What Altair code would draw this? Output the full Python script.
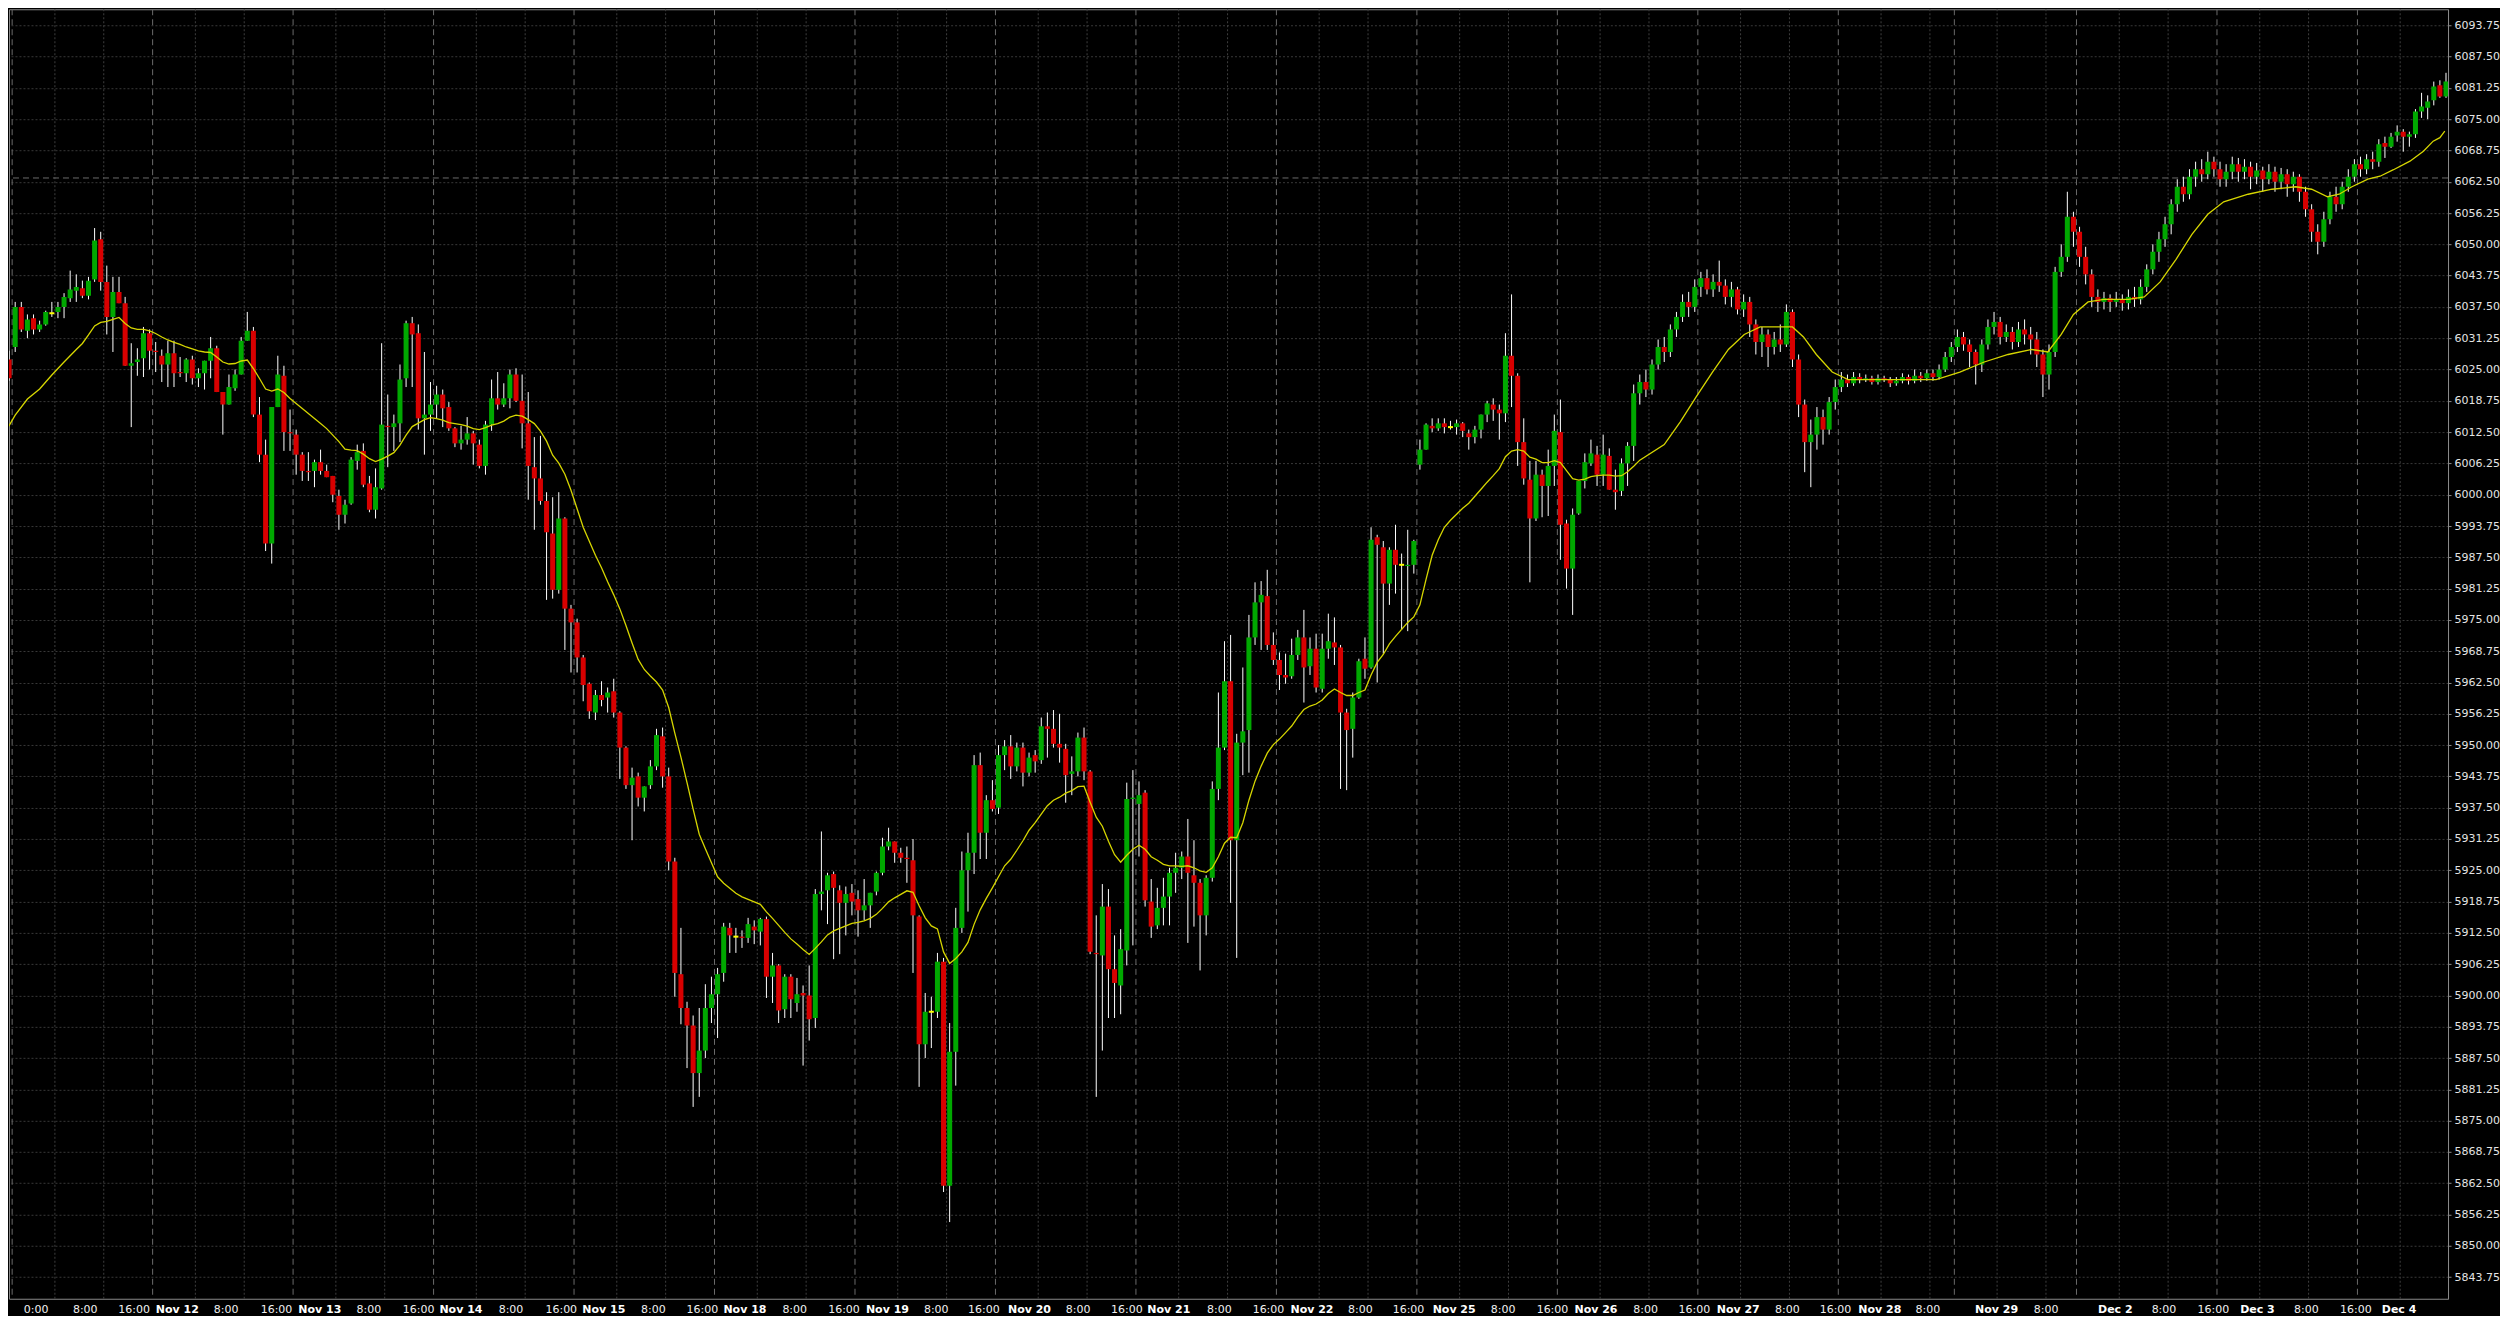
import altair as alt
import pandas as pd

# ---------------- data (hourly bars, bar index g starts at -2) ----------------
FIRST_BAR = -2
opens = [
    6033, 6027, 6029.5, 6037.5, 6032.75, 6035.25, 6033, 6034, 6036.25, 6036.5,            # -2
    6037.5, 6039.25, 6040.75, 6041.25, 6039.75, 6043, 6051, 6042.5, 6035.5, 6040.5,       # 8
    6038.25, 6025.75, 6026.5, 6027.25, 6032.25, 6028.75, 6027.75, 6026, 6028.25, 6024.5,  # 18
    6024.25, 6027, 6023.25, 6024.25, 6026.75, 6029.25, 6020.5, 6018, 6021.25, 6024,       # 28
    6030.75, 6032.75, 6016, 6008, 5990.25, 6017.5, 6023.75, 6012.5, 6012, 6008,           # 38
    6004.75, 6004.75, 6006.5, 6004.75, 6003.75, 5999.75, 5996, 5998.25, 6006.75, 6008.75, # 48
    6002.25, 5997, 6001.25, 6013.75, 6013.5, 6014.25, 6023.25, 6034.25, 6032.25, 6015.25, # 58
    6016, 6018, 6020, 6017.5, 6013.25, 6010.25, 6011, 6012.25, 6010, 6005.75,             # 68
    6014, 6019.25, 6018, 6019.25, 6024, 6018.75, 6014.25, 6005.5, 6003.25, 5998.75,       # 78
    5992.25, 5981, 5995.25, 5977.25, 5974.5, 5967.5, 5962.25, 5956.5, 5960, 5959.5,       # 88
    5960.75, 5956.5, 5949.5, 5942, 5943.75, 5939.5, 5942, 5945.75, 5951.75, 5943.75,      # 98
    5926.75, 5904.25, 5897.5, 5894, 5884.5, 5889, 5897.5, 5900.25, 5904.5, 5913.5,        # 108
    5911.75, 5911.75, 5911.5, 5913.75, 5912.75, 5915.25, 5903.75, 5906, 5897.25, 5903.75, # 118
    5898.5, 5900.5, 5900, 5895.5, 5920.25, 5921, 5924.25, 5921, 5918.5, 5920.5,           # 128
    5919.25, 5917, 5918, 5920.75, 5924.5, 5929.75, 5930.75, 5928.5, 5927.5, 5927,         # 138
    5915.75, 5890.25, 5896.75, 5896.75, 5906.75, 5862, 5888.75, 5913.5, 5925, 5928.5,     # 148
    5946, 5932.5, 5939, 5937.5, 5948, 5949.75, 5945.75, 5949.5, 5944.5, 5948,             # 158
    5947, 5953.75, 5953.25, 5950.25, 5949.25, 5944.25, 5944.75, 5951.5, 5944.75, 5908.5,  # 168
    5908, 5917.75, 5905.25, 5902, 5909, 5939.25, 5938.25, 5940.5, 5918.75, 5914,          # 178
    5917.5, 5919.75, 5924.5, 5925.5, 5927.75, 5924, 5922.5, 5916, 5923.5, 5941.25,        # 188
    5949.5, 5962.75, 5931, 5950.5, 5953, 5971.5, 5978.5, 5979.75, 5970, 5967,             # 198
    5964, 5963.75, 5968, 5971.5, 5965.75, 5969.25, 5961.25, 5969.25, 5970.5, 5969.5,      # 208
    5956.5, 5953.25, 5959.5, 5967.25, 5965.5, 5991.5, 5989.5, 5982.25, 5989, 5986,        # 218
    5985.75, 5986, 6006, 6009, 6013.75, 6013.25, 6014.25, 6013.5, 6013.5, 6014.25,        # 228
    6012.25, 6011.5, 6013, 6016, 6018, 6017, 6016.25, 6027.75, 6023.75, 6010.5,           # 238
    6003, 5995.25, 6004, 6001.75, 6005.75, 6012.5, 5994.25, 5985.25, 5996.25, 6002.75,    # 248
    6006.25, 6008, 6004, 6007.75, 6001, 6000.75, 6006.25, 6009.75,                        # 258
    6020.25, 6022.5, 6021, 6026, 6029.5, 6028.5, 6033, 6035.5, 6038.5, 6037.5,            # 266
    6041.5, 6043.25, 6041, 6042.5, 6041.75, 6039.5, 6041, 6037, 6038.5, 6034,             # 276
    6030.5, 6032, 6029.5, 6031, 6030, 6036.5, 6027, 6018, 6010.5, 6012,                   # 286
    6015.5, 6013, 6018.5, 6021.5, 6023, 6022.25, 6023.5, 6023, 6023.25, 6022.5,           # 296
    6023.25, 6023, 6022.25, 6022.75, 6023.5, 6022.75, 6023.75, 6023.25, 6024.25, 6023.5,  # 306
    6025, 6027.5, 6029.5, 6031.5, 6030, 6028.5, 6026, 6030, 6033.5, 6034.5,               # 316
    6031.5, 6032.5, 6030.5, 6033, 6032, 6031, 6028, 6024, 6028.5, 6044.5,                 # 326
    6047.5, 6055.5, 6052.5, 6047.5, 6044, 6039.5, 6038.5, 6039.25, 6038.5, 6039,          # 336
    6038.25, 6039.5, 6039, 6041.5, 6045, 6048.5, 6051, 6054, 6058, 6061.5,                # 346
    6060, 6063.5, 6065, 6064, 6066.5, 6065, 6063, 6064.5, 6066, 6064.5,                   # 356
    6065.5, 6063.5, 6064.75, 6063, 6064.5, 6062.5, 6064, 6062, 6063.5, 6060.5,            # 366
    6057, 6052.5, 6050.5, 6055, 6059.5, 6058, 6061.5, 6063.5, 6066, 6065,                 # 376
    6067, 6066.5, 6070.25, 6069.5, 6071.75, 6072.5, 6071.5, 6072, 6076.5, 6077.25,        # 386
    6078.75, 6081.75, 6079.5,                                                             # 396
]
highs = [
    6033.75, 6028.75, 6038.5, 6038.5, 6036, 6036, 6034.75, 6036.75, 6038.5, 6038.5,
    6040.25, 6044.75, 6044, 6042.75, 6043.5, 6053.25, 6052.5, 6045.75, 6043.5, 6043.5,
    6039.5, 6030.25, 6029.25, 6033.5, 6033, 6030.5, 6029, 6030.75, 6030.75, 6027.5,
    6027.25, 6027.75, 6025.25, 6026.75, 6031.5, 6029.75, 6020.5, 6024, 6025, 6031.5,
    6036.5, 6033.5, 6019.5, 6011, 6017.5, 6027.75, 6025.75, 6017, 6013, 6008.5,
    6008.5, 6007, 6009, 6006, 6003.75, 6001, 5999, 6007.5, 6010, 6010.25,
    6003.75, 6005.25, 6030.25, 6020, 6016, 6026, 6034.75, 6035.5, 6034, 6028.5,
    6022.5, 6021.75, 6021, 6018.5, 6013.5, 6013.75, 6015.5, 6012.75, 6011, 6014.75,
    6023, 6024.5, 6022.25, 6025, 6025.25, 6024, 6020.5, 6011.5, 6011.75, 6000.5,
    5999.5, 6000.5, 5995.5, 5978, 5975.25, 5968, 5962.5, 5961, 5962.75, 5961.5,
    5963.25, 5956.75, 5949.75, 5945.5, 5944.5, 5941.75, 5947, 5953.25, 5953.5, 5945.5,
    5927.5, 5913.5, 5898.75, 5896, 5897.5, 5902.25, 5903.75, 5905.5, 5914.5, 5914.5,
    5913.5, 5913, 5915.5, 5915, 5915.5, 5915.75, 5908.5, 5906.25, 5904.25, 5904.25,
    5903.5, 5902, 5906, 5921.25, 5932.75, 5924.5, 5924.75, 5922, 5921.75, 5922.25,
    5921, 5923.25, 5920.5, 5924.75, 5931.5, 5933.5, 5930.75, 5929.5, 5929.75, 5931.25,
    5916, 5900.5, 5899.75, 5908.5, 5907.5, 5894.5, 5917.5, 5928.75, 5932.5, 5948,
    5948.5, 5940, 5943, 5950, 5951, 5952, 5950.5, 5950.5, 5948.5, 5949,
    5955.5, 5956.5, 5957, 5956.25, 5950.25, 5947.75, 5952.5, 5953.5, 5945, 5916,
    5922.25, 5921.25, 5912, 5913.25, 5942.5, 5945, 5942.75, 5941, 5923.25, 5921.5,
    5923.5, 5925.5, 5928.5, 5928.75, 5935.25, 5931, 5923.25, 5924, 5942.75, 5960.5,
    5970.75, 5972, 5952.25, 5965.5, 5976, 5982.5, 5982.75, 5985, 5972.5, 5968.5,
    5968.25, 5971.25, 5973, 5977, 5971.5, 5972.25, 5972.25, 5976.25, 5975.5, 5970,
    5957.25, 5960.5, 5967.25, 5971.5, 5993.5, 5992, 5990.75, 5989.5, 5994, 5988.25,
    5993, 5991, 6011, 6014.25, 6015.25, 6015.25, 6015.25, 6014.75, 6015, 6014.5,
    6013, 6013.75, 6016, 6018.75, 6019.25, 6018, 6032.25, 6040, 6024.25, 6015.25,
    6006.75, 6006.75, 6005, 6009, 6016, 6019, 5995, 5997.25, 6002.75, 6008.25,
    6011, 6009.75, 6012, 6009.25, 6005, 6007.25, 6010.5, 6022,
    6024, 6025, 6027, 6031, 6031.5, 6034, 6036.5, 6040, 6040.5, 6043,
    6044.5, 6045, 6044, 6046.75, 6043, 6042.5, 6041.5, 6040, 6039.5, 6035,
    6033.5, 6033, 6032.5, 6034, 6038, 6037, 6028, 6019, 6015, 6017.5,
    6017, 6019.5, 6023, 6024.5, 6024, 6024.5, 6024.25, 6024, 6023.75, 6024,
    6023.75, 6023.5, 6023.5, 6024.25, 6024, 6025, 6024.5, 6025, 6025, 6026,
    6028.5, 6030.5, 6033, 6032.5, 6031, 6029, 6031, 6035, 6036.5, 6035.5,
    6034, 6033.5, 6034.5, 6035, 6033.5, 6032.5, 6029, 6030, 6045.5, 6050,
    6060.5, 6056.5, 6053.5, 6049.5, 6045, 6041, 6040.5, 6040, 6040.5, 6040,
    6041, 6041.5, 6043, 6046, 6050, 6052.5, 6055.5, 6059, 6063, 6063.5,
    6065, 6066.5, 6067, 6068.5, 6067.5, 6066.5, 6066, 6067.5, 6067.25, 6067,
    6066.5, 6066.25, 6065.5, 6066, 6065.5, 6065.25, 6065, 6064.5, 6064, 6061.5,
    6058, 6054, 6056.5, 6060.5, 6061.5, 6062.5, 6065, 6067, 6067.5, 6068,
    6068.5, 6071, 6071.5, 6072.25, 6073.75, 6073, 6072.5, 6077, 6080.25, 6079.75,
    6082.5, 6082.75, 6084.25,
]
lows = [
    6020, 6022.75, 6028.5, 6032.5, 6031.25, 6032, 6032.5, 6033.75, 6035.5, 6035.25,
    6035.25, 6038.5, 6038.5, 6039.25, 6039, 6042.5, 6040.75, 6032, 6028.5, 6038.25,
    6025.75, 6013.5, 6023.75, 6023.5, 6025, 6024.5, 6022.5, 6021.5, 6021.5, 6023.5,
    6022.5, 6022, 6021.5, 6021, 6023.25, 6020.5, 6012, 6018, 6020.75, 6024,
    6030.75, 6015.5, 6006.5, 5988.75, 5986.25, 6017.5, 6008.75, 6008.75, 6004, 6002.75,
    6002.75, 6001.5, 6004, 6003.5, 5998.5, 5993, 5994.25, 5998, 6005, 6001.5,
    5996.5, 5995.25, 6001, 6005.5, 6008.75, 6010.5, 6021.5, 6021.5, 6013, 6008,
    6012.75, 6015.25, 6013.5, 6012.75, 6009.5, 6009, 6010, 6006, 6005.25, 6004,
    6012.75, 6017, 6017.5, 6017.25, 6018.5, 6009.25, 5999, 5993, 5998, 5979,
    5979.25, 5980.25, 5969, 5964.5, 5964.5, 5958.75, 5955.25, 5955, 5957.75, 5956.5,
    5955.5, 5943.25, 5941.25, 5931, 5937.75, 5936.75, 5941.25, 5945, 5941.5, 5925,
    5899.75, 5894.25, 5885.5, 5877.75, 5879.75, 5887.5, 5894.5, 5891.5, 5902.75, 5908.5,
    5908.5, 5909.5, 5910.5, 5910.25, 5910, 5899.5, 5898.5, 5894.5, 5895.5, 5895.5,
    5896.75, 5886, 5891, 5893.5, 5917, 5914.25, 5907.25, 5908.25, 5912, 5916,
    5911.75, 5915, 5913.5, 5920, 5924, 5929, 5926.5, 5926.5, 5922.5, 5904.5,
    5881.75, 5887.5, 5889.5, 5895.5, 5860.75, 5854.75, 5882, 5912.5, 5916.75, 5924.25,
    5927.25, 5927.25, 5936.75, 5936.25, 5945, 5943.25, 5944.75, 5941.75, 5943.75, 5944.5,
    5946.25, 5947.5, 5949.5, 5946.5, 5938.5, 5940, 5943.75, 5943, 5908.25, 5879.75,
    5889, 5895.5, 5895.5, 5896.25, 5906, 5910, 5927.75, 5917.75, 5911.5, 5913.25,
    5914, 5914, 5920.5, 5923.25, 5910.5, 5913.75, 5905, 5912, 5922.75, 5939,
    5949, 5918.5, 5907.5, 5944, 5944.5, 5970, 5969, 5969, 5966, 5961,
    5962.25, 5963.25, 5967, 5958.5, 5964, 5960.5, 5960.5, 5967.25, 5966, 5941.25,
    5941, 5947.5, 5959.25, 5963.25, 5965.25, 5962.5, 5968.25, 5978, 5980.25, 5973,
    5972.75, 5984.25, 6005, 6009, 6012.5, 6012.75, 6012.25, 6013, 6012, 6011.5,
    6009, 6010.25, 6011.25, 6014.5, 6014.75, 6011, 6014.5, 6017.5, 6005.75, 6002,
    5982.5, 5994.75, 5995.5, 5995.75, 6001.75, 5987, 5981.25, 5976, 5996, 6001.25,
    6005.75, 6001.75, 6001.75, 6001, 5997, 5999.75, 6001.75, 6006.75,
    6018, 6019.5, 6020, 6025, 6026.5, 6027.5, 6031.5, 6034.5, 6035.5, 6036.5,
    6039.5, 6040, 6039.5, 6040.5, 6038, 6037.5, 6036, 6035.5, 6031.5, 6028,
    6027.5, 6025.5, 6028, 6028.5, 6029.5, 6025.5, 6015.5, 6004.5, 6001.5, 6009,
    6010, 6012, 6017, 6020.5, 6021.5, 6021.75, 6022.25, 6022.5, 6022, 6022,
    6022.5, 6021.5, 6021.75, 6022.25, 6022, 6022.25, 6022.5, 6022.75, 6022.75, 6023,
    6024.5, 6026.5, 6028.5, 6028.75, 6025.5, 6022, 6024.5, 6029, 6032, 6030,
    6030.5, 6029, 6029.5, 6030, 6028, 6025.5, 6019.5, 6021, 6027.5, 6043.5,
    6046.5, 6049.5, 6045.5, 6042, 6037.5, 6036.5, 6037, 6036.5, 6037.5, 6036.75,
    6037, 6037.5, 6038, 6040.5, 6044, 6046.5, 6049.5, 6052, 6056.5, 6058.5,
    6059, 6061.5, 6062.5, 6063, 6063.5, 6061.5, 6061.5, 6063, 6062.5, 6063,
    6061, 6062, 6060.5, 6062, 6060.5, 6061, 6059.5, 6060.5, 6058.5, 6055.5,
    6050.5, 6048, 6049.5, 6054, 6056.5, 6057, 6060.5, 6062.5, 6063.5, 6064,
    6065, 6065.5, 6067.25, 6069.25, 6070.5, 6068.5, 6069.5, 6071.25, 6075.25, 6075,
    6077.75, 6079.25, 6079.25,
]
closes = [
    6027.25, 6023.25, 6037.5, 6033, 6035, 6033, 6034, 6036.5, 6036.25, 6037.5,
    6039.5, 6041, 6041.5, 6039.75, 6042.75, 6050.75, 6042.5, 6035.5, 6040.5, 6038.25,
    6025.75, 6026.25, 6027, 6032.25, 6028.75, 6028.5, 6026, 6028.25, 6024.25, 6024.25,
    6027, 6023.25, 6024.25, 6026.75, 6029.25, 6020.5, 6018, 6021.5, 6024, 6030.75,
    6032.75, 6016, 6008, 5990.25, 6017.5, 6024, 6012.5, 6012.25, 6008, 6004.75,
    6004.5, 6006.5, 6004.75, 6003.5, 6000, 5996, 5998, 6007, 6008.5, 6002,
    5997, 6001.5, 6014, 6013.5, 6014.25, 6023, 6034.25, 6032, 6015.25, 6016,
    6018, 6020, 6017.25, 6013.25, 6010.25, 6011, 6012.25, 6010.25, 6005.75, 6014,
    6019.25, 6018, 6019.25, 6024, 6018.75, 6014.25, 6005.75, 6003.25, 5998.75, 5992.5,
    5981, 5995.25, 5977.25, 5974.5, 5967.5, 5962, 5956.75, 5960, 5959, 5960.5,
    5956.5, 5949.5, 5942, 5943.5, 5939.5, 5941.75, 5945.75, 5952, 5943.75, 5926.75,
    5904.5, 5897.5, 5894, 5884.5, 5889, 5897.5, 5900.25, 5904.25, 5913.75, 5912,
    5911.75, 5911.5, 5914.25, 5913, 5915.25, 5903.75, 5906, 5897, 5903.75, 5899.25,
    5900.25, 5900, 5895.25, 5920.25, 5920.75, 5924, 5921.5, 5918.5, 5920.25, 5918.75,
    5917, 5918, 5920.5, 5924.5, 5929.75, 5930.75, 5928.5, 5927.5, 5927.25, 5916,
    5890.25, 5896.75, 5896.75, 5906.75, 5862, 5888.75, 5913.5, 5925, 5928.5, 5946,
    5932.5, 5939, 5937.25, 5948, 5949.75, 5945.75, 5949.5, 5944.5, 5947.5, 5946.75,
    5953.75, 5953.25, 5950.25, 5949.5, 5944, 5944.75, 5951.5, 5944.75, 5908.75, 5908.25,
    5917.75, 5905.25, 5902.5, 5909.25, 5939.25, 5939.5, 5940, 5919, 5913.75, 5917.5,
    5919.75, 5924.5, 5925.5, 5927.75, 5924.5, 5922.5, 5916, 5923.5, 5941.25, 5949.5,
    5962.75, 5931, 5950.5, 5952.75, 5971.5, 5978.5, 5980, 5970, 5967, 5964,
    5963.5, 5968, 5971.5, 5965.5, 5969.25, 5961.5, 5969.25, 5970.75, 5969.5, 5956.5,
    5953, 5959.5, 5966.75, 5965.25, 5991, 5990, 5982.25, 5989, 5986, 5986,
    5986, 5990.75, 6009, 6014, 6013.25, 6014.25, 6013.5, 6013.5, 6014.25, 6012.75,
    6011.5, 6013, 6016, 6018.25, 6017, 6016.25, 6027.75, 6023.75, 6010.5, 6003.25,
    5995.25, 6004, 6001.75, 6005.75, 6012.75, 5994, 5985.25, 5996, 6002.75, 6006.5,
    6008.25, 6004, 6008, 6001, 6000.5, 6006.25, 6009.75, 6020.25,
    6022.5, 6021, 6026, 6029.5, 6028.5, 6033, 6035.5, 6038.5, 6037.5, 6041.5,
    6043.25, 6041, 6042.5, 6041.75, 6039.5, 6041, 6037, 6038.5, 6034, 6030.5,
    6032, 6029.5, 6031, 6030, 6036.5, 6027, 6018, 6010.5, 6012, 6015.5,
    6013, 6018.5, 6021.5, 6023, 6022.25, 6023.5, 6023, 6023.25, 6022.5, 6023.25,
    6023, 6022.25, 6022.75, 6023.5, 6022.75, 6023.75, 6023.25, 6024.25, 6023.5, 6025,
    6027.5, 6029.5, 6031.5, 6030, 6028.5, 6026, 6030, 6033.5, 6034.5, 6031.5,
    6032.5, 6030.5, 6033, 6032, 6031, 6028, 6024, 6028.5, 6044.5, 6047.5,
    6055.5, 6052.5, 6047.5, 6044, 6039.5, 6038.5, 6039.25, 6038.5, 6039, 6038.25,
    6039.5, 6039, 6041.5, 6045, 6048.5, 6051, 6054, 6058, 6061.5, 6060,
    6063.5, 6065, 6064, 6066.5, 6065, 6063, 6064.5, 6066, 6064.5, 6065.5,
    6063.5, 6064.75, 6063, 6064.5, 6062.5, 6064, 6062, 6063.5, 6060.5, 6057,
    6052.5, 6050.5, 6055, 6059.5, 6058, 6061.5, 6063.5, 6066, 6065, 6067,
    6066.5, 6070, 6069.5, 6071.5, 6072.5, 6071.5, 6072, 6076.5, 6077.5, 6078.5,
    6081.5, 6079.5, 6082.5,
]

# moving average (yellow line), read at bar positions
ma_g = [-2, -1, 0, 2, 4, 6, 8, 10, 11, 12, 13, 14, 15, 16, 17, 18, 19, 20, 21, 22,
        23, 24, 25, 26, 27, 28, 29, 30, 31, 32, 33, 34, 35, 36, 37, 38, 39, 40, 41, 42,
        43, 44, 45, 46, 47, 48, 49, 50, 51, 52, 53, 54, 55, 56, 57, 58, 59, 60, 61, 62,
        63, 64, 65, 66, 67, 68, 69, 70, 71, 72, 73, 74, 75, 76, 77, 78, 79, 80, 81, 82,
        83, 84, 85, 86, 87, 88, 89, 90, 91, 92, 93, 94, 95, 96, 97, 98, 99, 100, 101, 102,
        103, 104, 105, 106, 107, 108, 109, 110, 111, 112, 113, 114, 115, 116, 117, 118, 119, 120, 121, 122,
        123, 124, 125, 126, 127, 128, 129, 130, 131, 132, 133, 134, 135, 136, 137, 138, 139, 140, 141, 142,
        143, 144, 145, 146, 147, 148, 149, 150, 151, 152, 153, 154, 155, 156, 157, 158, 159, 160, 161, 162,
        163, 164, 165, 166, 167, 168, 169, 170, 171, 172, 173, 174, 175, 176, 177, 178, 179, 180, 181, 182,
        183, 184, 185, 186, 187, 188, 189, 190, 191, 192, 193, 194, 195, 196, 197, 198, 199, 200, 201, 202,
        203, 204, 205, 206, 207, 208, 209, 210, 211, 212, 213, 214, 215, 216, 217, 218, 219, 220, 221, 222,
        223, 224, 225, 226, 227, 228, 229, 230, 231, 232, 233, 234, 235, 236, 237, 238, 239, 240, 241, 242,
        243, 244, 245, 246, 247, 248, 249, 250, 251, 252, 253, 254, 255, 256, 257, 258, 259, 260, 261, 262,
        263, 264, 265, 266, 270, 272.6, 275.2, 277.9, 280.5, 283.1, 285.7, 288.3, 291, 292.8, 294.9, 297.5,
        300.1, 304, 309.3, 314.5, 318.4, 322.4, 326.3, 330.2, 332.8, 335, 337, 339.4, 342, 346, 348.6,
        351.2, 353.8, 356.4, 359, 361.6, 365.6, 369.5, 373.4, 376, 378.6, 380.5, 382.6, 385.2, 387.2,
        389.4, 392.1, 394.3, 395.9, 397, 397.8]
ma_v = [6012.2, 6013.8, 6015.9, 6019.1, 6021.1, 6023.9, 6026.5, 6029.0, 6030.2, 6031.9, 6033.7, 6034.4, 6034.6, 6035.0, 6035.4, 6034.2, 6033.3, 6033.0, 6033.0, 6032.7,
        6032.2, 6031.5, 6030.9, 6030.4, 6030.0, 6029.5, 6029.1, 6028.7, 6028.5, 6028.4, 6027.5, 6026.5, 6026.1, 6026.2, 6026.7, 6026.9, 6025.2, 6023.2, 6021.1, 6020.7,
        6021.1, 6020.4, 6019.2, 6018.2, 6017.2, 6016.2, 6015.2, 6014.2, 6013.2, 6011.9, 6010.6, 6009.1, 6008.9, 6008.8, 6008.1, 6007.2, 6006.6, 6007.1, 6007.7, 6008.4,
        6009.9, 6011.9, 6013.6, 6014.3, 6015.0, 6015.4, 6015.2, 6014.9, 6014.4, 6014.2, 6014.0, 6013.7, 6013.2, 6013.0, 6013.4, 6013.9, 6014.2, 6014.7, 6015.5, 6015.9,
        6015.7, 6015.0, 6014.2, 6012.7, 6010.7, 6007.9, 6006.3, 6004.1, 6000.9, 5997.2, 5993.5, 5990.7, 5987.9, 5985.4, 5982.6, 5980.0, 5977.2, 5973.9, 5970.4, 5967.1,
        5965.1, 5963.8, 5962.6, 5961.0, 5957.5, 5952.4, 5947.6, 5942.5, 5937.2, 5932.2, 5929.3, 5926.5, 5923.7, 5922.4, 5921.4, 5920.4, 5919.7, 5919.2, 5918.7, 5918.2,
        5916.7, 5915.4, 5914.0, 5912.6, 5911.3, 5910.3, 5909.2, 5908.2, 5909.4, 5910.7, 5912.1, 5912.9, 5913.4, 5913.9, 5914.4, 5914.6, 5914.9, 5915.4, 5916.2, 5917.4,
        5918.7, 5919.5, 5920.2, 5920.9, 5920.6, 5917.9, 5915.5, 5913.9, 5913.3, 5908.7, 5906.4, 5907.4, 5908.7, 5910.6, 5914.2, 5917.1, 5919.4, 5921.5, 5923.7, 5925.9,
        5927.2, 5929.0, 5930.9, 5933.0, 5934.5, 5936.2, 5937.9, 5939.0, 5939.6, 5940.4, 5940.9, 5941.7, 5941.8, 5938.6, 5935.6, 5933.8, 5930.8, 5928.1, 5926.6, 5928.0,
        5929.2, 5930.0, 5929.2, 5927.7, 5927.0, 5926.2, 5925.9, 5925.9, 5925.8, 5925.9, 5925.5, 5924.9, 5924.6, 5925.5, 5927.7, 5930.4, 5931.6, 5931.5, 5934.5, 5939.0,
        5942.8, 5945.8, 5948.4, 5950.1, 5951.2, 5952.5, 5953.8, 5955.6, 5957.1, 5957.8, 5958.2, 5959.0, 5960.3, 5961.2, 5960.5, 5959.9, 5959.9, 5960.5, 5961.0, 5964.0,
        5966.5, 5968.1, 5970.2, 5971.7, 5973.1, 5974.5, 5975.6, 5978.0, 5983.1, 5987.9, 5991.0, 5993.5, 5994.9, 5996.1, 5997.3, 5998.3, 5999.7, 6001.1, 6002.5, 6003.8,
        6005.2, 6007.6, 6008.7, 6009.0, 6008.7, 6007.5, 6007.1, 6006.4, 6006.4, 6006.8, 6006.4, 6004.8, 6003.2, 6002.9, 6003.1, 6003.6, 6003.8, 6003.9, 6003.9, 6003.7,
        6003.8, 6004.6, 6005.7, 6006.9, 6010.0, 6014.5, 6019.5, 6024.5, 6029.0, 6032.0, 6033.5, 6033.5, 6033.5, 6031.5, 6028.0, 6024.5,
        6023.0, 6023.0, 6023.0, 6023.0, 6024.5, 6026.5, 6028.0, 6029.0, 6028.5, 6032.0, 6036.0, 6038.5, 6039.0, 6039.0, 6039.5,
        6042.5, 6047.0, 6052.0, 6056.0, 6058.5, 6060.0, 6061.0, 6061.5, 6061.0, 6059.5, 6060.0, 6061.5, 6063.0, 6063.6,
        6064.9, 6066.6, 6068.6, 6070.6, 6071.3, 6072.6]

# session-start grid lines (brighter) and time grid lines (dim), in bar units
grid_bright = [-0.5, 22.5, 45.5, 68.5, 91.5, 114.5, 137.5, 160.5, 183.5, 206.5, 229.5,
               252.5, 275.5, 298.5, 317.5, 337.5, 360.5, 383.5]
grid_dim = [6.5, 14.5, 29.5, 37.5, 52.5, 60.5, 75.5, 83.5, 98.5, 106.5, 121.5, 129.5,
            144.5, 152.5, 167.5, 175.5, 190.5, 198.5, 213.5, 221.5, 236.5, 244.5, 259.5,
            267.5, 282.5, 290.5, 305.5, 313.5, 324.5, 332.5, 344.5, 352.5, 367.5, 375.5, 390.5]

x_labels = ["0:00", "8:00", "16:00", "Nov 12", "8:00", "16:00", "Nov 13", "8:00", "16:00", "Nov 14",
            "8:00", "16:00", "Nov 15", "8:00", "16:00", "Nov 18", "8:00", "16:00", "Nov 19", "8:00",
            "16:00", "Nov 20", "8:00", "16:00", "Nov 21", "8:00", "16:00", "Nov 22", "8:00", "16:00",
            "Nov 25", "8:00", "16:00", "Nov 26", "8:00", "16:00", "Nov 27", "8:00", "16:00", "Nov 28",
            "8:00", "Nov 29", "8:00", "Dec 2", "8:00", "16:00", "Dec 3", "8:00", "16:00", "Dec 4"]
x_label_pos = [3.42, 11.47, 19.48, 26.55, 34.52, 42.78, 49.87, 57.91, 66.04, 72.98,
               81.18, 89.41, 96.38, 104.5, 112.5, 119.48, 127.63, 135.7, 142.81, 150.8,
               158.6, 166.07, 174.04, 182.01, 188.89, 197.15, 205.2, 212.32, 220.26, 228.13,
               235.6, 243.62, 251.7, 258.82, 266.96, 274.94, 282.11, 290.16, 298.04, 305.3,
               313.17, 324.42, 332.52, 343.85, 351.82, 359.92, 367.12, 375.14, 383.24, 390.31]
x_label_bold = [not s[0].isdigit() for s in x_labels]

y_ticks = [5843.75, 5850.0, 5856.25, 5862.5, 5868.75, 5875.0, 5881.25, 5887.5, 5893.75, 5900.0,
           5906.25, 5912.5, 5918.75, 5925.0, 5931.25, 5937.5, 5943.75, 5950.0, 5956.25, 5962.5,
           5968.75, 5975.0, 5981.25, 5987.5, 5993.75, 6000.0, 6006.25, 6012.5, 6018.75, 6025.0,
           6031.25, 6037.5, 6043.75, 6050.0, 6056.25, 6062.5, 6068.75, 6075.0, 6081.25, 6087.5,
           6093.75]
ref_level = [6063.25]

# ---------------- frames ----------------
bars = pd.DataFrame({
    "g": list(range(FIRST_BAR, FIRST_BAR + len(opens))),
    "o": opens, "h": highs, "l": lows, "c": closes,
})
ma = pd.DataFrame({"g": ma_g, "v": ma_v})
bright_df = pd.DataFrame({"pos": grid_bright})
dim_df = pd.DataFrame({"pos": grid_dim})
lab_df = pd.DataFrame({"label": x_labels, "pos": x_label_pos, "bold": x_label_bold})
ref_df = pd.DataFrame({"lvl": ref_level})

# ---------------- scales / axis ----------------
W, H = 2440, 1290
xs = alt.Scale(domain=[-1.015, 398.33], nice=False, zero=False)
ys = alt.Scale(domain=[5839.44, 6096.94], nice=False, zero=False)
yaxis = alt.Axis(orient="right", values=y_ticks, format=".2f", title=None,
                 grid=True, gridColor="#383838", gridDash=[2, 2], gridWidth=1,
                 labelColor="#e4e4e4", labelFont="DejaVu Sans", labelFontSize=11,
                 labelPadding=3, tickSize=3, tickColor="#8a8a8a",
                 domain=True, domainColor="#8a8a8a", labelOverlap=False, labelBound=False)

X = lambda f: alt.X(f, scale=xs, axis=None)
Y = lambda f: alt.Y(f, scale=ys, axis=yaxis)

dim_rules = alt.Chart(dim_df).mark_rule(color="#3e3e3e", strokeDash=[2, 2], strokeWidth=1).encode(x=X("pos:Q"))
bright_rules = alt.Chart(bright_df).mark_rule(color="#6a6a6a", strokeDash=[6, 4], strokeWidth=1).encode(x=X("pos:Q"))
ref_rule = alt.Chart(ref_df).mark_rule(color="#6a6a6a", strokeDash=[6, 4], strokeWidth=1).encode(y=Y("lvl:Q"))

wicks = alt.Chart(bars).mark_rule(color="#ffffff", strokeWidth=1, clip=True).encode(
    x=X("g:Q"), y=Y("l:Q"), y2="h:Q")

bodies = alt.Chart(bars).transform_calculate(
    xl="datum.g - 0.41", xr="datum.g + 0.41",
    dir="datum.c > datum.o ? 'up' : (datum.c < datum.o ? 'down' : 'doji')",
    bt="datum.c == datum.o ? datum.o + 0.2 : datum.o",
    bb="datum.c == datum.o ? datum.c - 0.2 : datum.c",
).mark_rect(clip=True).encode(
    x=X("xl:Q"), x2="xr:Q", y=Y("bt:Q"), y2="bb:Q",
    color=alt.Color("dir:N", scale=alt.Scale(domain=["up", "down", "doji"],
                                             range=["#00a800", "#d80000", "#ffff00"]), legend=None))

ma_line = alt.Chart(ma).mark_line(color="#d6d600", strokeWidth=1.3, clip=True).encode(x=X("g:Q"), y=Y("v:Q"))

lab_norm = alt.Chart(lab_df).transform_filter("!datum.bold").mark_text(
    font="DejaVu Sans", fontSize=11, color="#f0f0f0", baseline="middle", align="center"
).encode(x=X("pos:Q"), y=alt.value(H + 11.3), text="label:N")
lab_bold = alt.Chart(lab_df).transform_filter("datum.bold").mark_text(
    font="DejaVu Sans", fontSize=11, fontWeight="bold", color="#ffffff", baseline="middle", align="center"
).encode(x=X("pos:Q"), y=alt.value(H + 11.3), text="label:N")

chart = alt.layer(dim_rules, bright_rules, ref_rule, wicks, bodies, ma_line, lab_norm, lab_bold).properties(
    width=W, height=H, padding=0, background="#000000"
).configure_view(stroke="#8a8a8a", strokeWidth=1)

chart.save("out.html", embed_options={"renderer": "svg", "actions": False})
